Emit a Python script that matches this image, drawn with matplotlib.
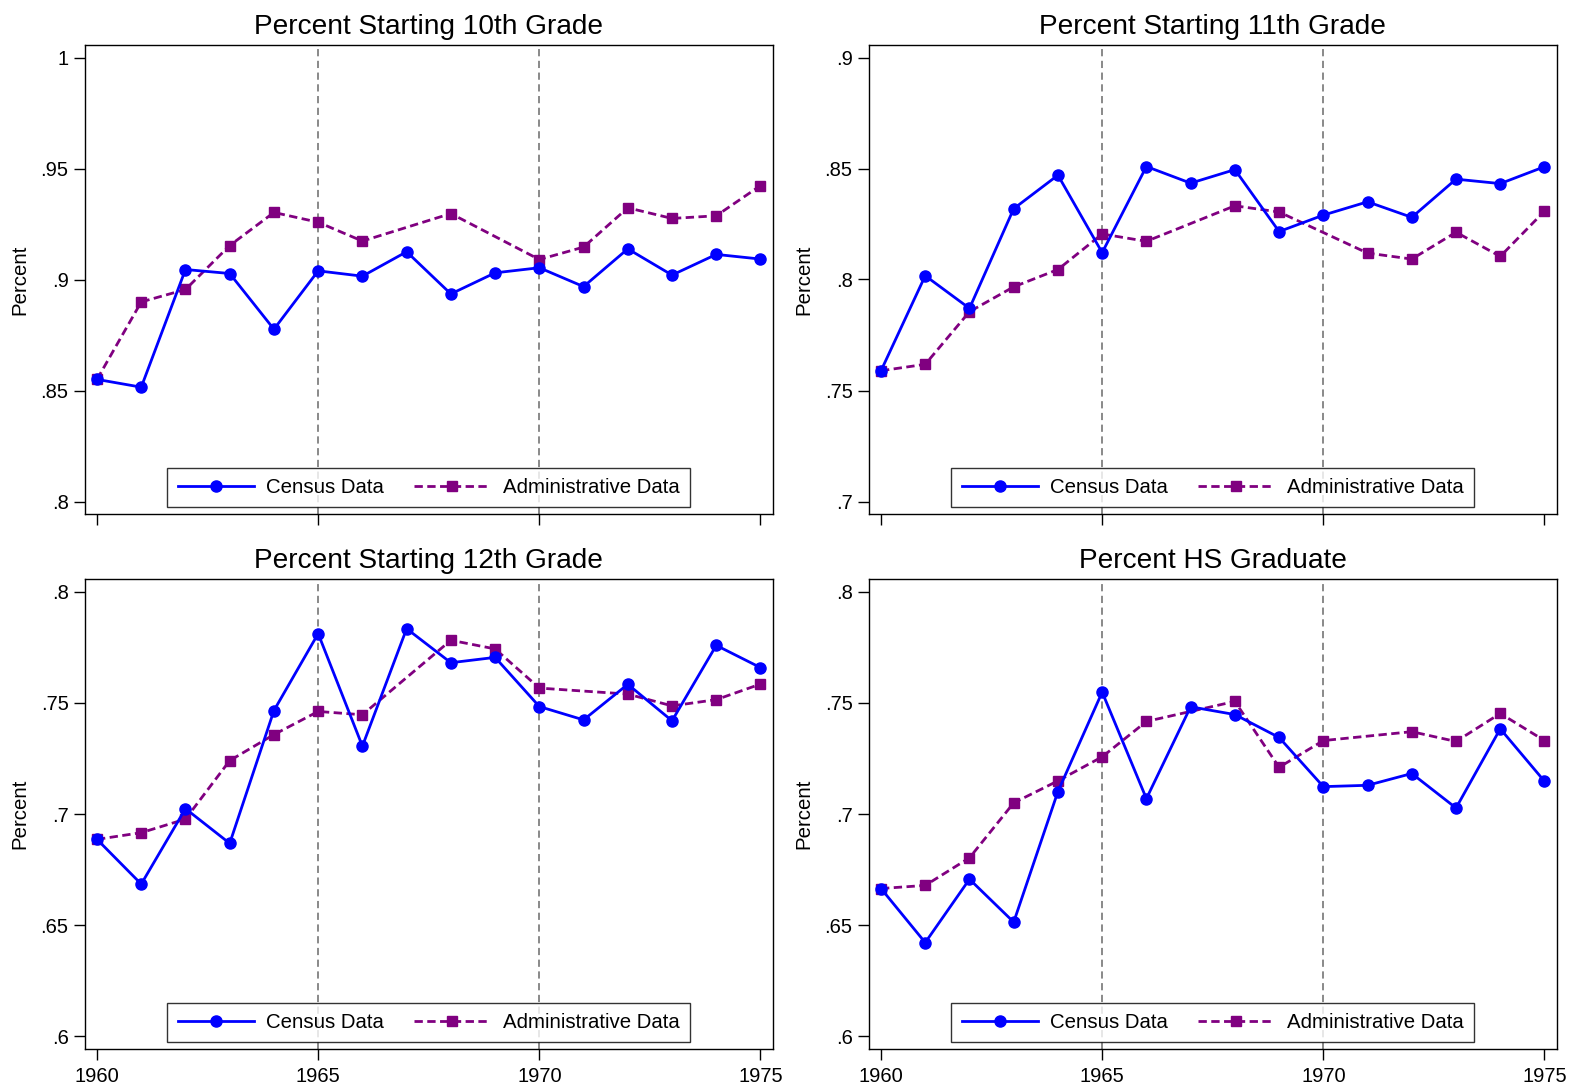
import numpy as np
import matplotlib.pyplot as plt

plt.rcParams['font.family'] = ['Liberation Sans', 'DejaVu Sans']

years = list(range(1960, 1976))

# Census vs administrative series, one pair per outcome (None = no admin value that year)
census_10th = [0.855, 0.8515, 0.9045, 0.9027, 0.8776, 0.9039, 0.9015, 0.9125,
               0.8935, 0.903, 0.9053, 0.8968, 0.9138, 0.902, 0.9113, 0.9092]
admin_10th = [0.855, 0.8899, 0.8955, 0.9153, 0.9302, 0.9258, 0.9173, None,
              0.9297, None, 0.909, 0.9146, 0.9323, 0.9275, 0.9287, 0.9423]

census_11th = [0.7589, 0.8017, 0.787, 0.8319, 0.847, 0.8121, 0.8509, 0.8434,
               0.8495, 0.8216, 0.829, 0.835, 0.828, 0.8452, 0.8432, 0.8508]
admin_11th = [0.7589, 0.7618, 0.7855, 0.7967, 0.8045, 0.8205, 0.8172, None,
              0.8332, 0.8304, None, 0.8119, 0.8092, 0.8213, 0.8104, 0.8308]

census_12th = [0.6886, 0.6685, 0.7024, 0.6868, 0.7465, 0.7811, 0.7305, 0.7833,
               0.768, 0.7704, 0.7483, 0.7423, 0.7583, 0.7419, 0.7758, 0.7658]
admin_12th = [0.6886, 0.6916, 0.6977, 0.724, 0.7357, 0.7461, 0.7446, None,
              0.7781, 0.7742, 0.7566, None, 0.7539, 0.7486, 0.7514, 0.7584]

census_grad = [0.6665, 0.6422, 0.6707, 0.6514, 0.7101, 0.7548, 0.7069, 0.7482,
               0.7447, 0.7344, 0.7123, 0.7129, 0.7182, 0.7027, 0.7383, 0.7147]
admin_grad = [0.6665, 0.6679, 0.6803, 0.705, 0.7149, 0.7257, 0.7416, None,
              0.7506, 0.721, 0.733, None, 0.737, 0.7326, 0.7452, 0.733]

titles = ['Percent Starting 10th Grade', 'Percent Starting 11th Grade',
          'Percent Starting 12th Grade', 'Percent HS Graduate']
yticks = [[0.8, 0.85, 0.9, 0.95, 1.0], [0.7, 0.75, 0.8, 0.85, 0.9],
          [0.6, 0.65, 0.7, 0.75, 0.8], [0.6, 0.65, 0.7, 0.75, 0.8]]
ytick_labels = [['.8', '.85', '.9', '.95', '1'], ['.7', '.75', '.8', '.85', '.9'],
                ['.6', '.65', '.7', '.75', '.8'], ['.6', '.65', '.7', '.75', '.8']]
xticks = [1960, 1965, 1970, 1975]
vlines_at = [1965, 1970]

panels = [(census_10th, admin_10th), (census_11th, admin_11th),
          (census_12th, admin_12th), (census_grad, admin_grad)]

W, H = 1571, 1083
fig = plt.figure(figsize=(W / 100, H / 100), dpi=100)

# axes boxes in pixels: left, top, right, bottom
boxes = [(84.5, 45, 772.5, 514), (868.5, 45, 1556.5, 514),
         (84.5, 579, 772.5, 1049), (868.5, 579, 1556.5, 1049)]

for i, ((cen, adm), box) in enumerate(zip(panels, boxes)):
    l, t, r, b = box
    ax = fig.add_axes([l / W, 1 - b / H, (r - l) / W, (b - t) / H])

    yrs = np.array(years)
    adm_arr = np.array([np.nan if v is None else v for v in adm], dtype=float)
    ok = ~np.isnan(adm_arr)

    for xv in vlines_at:
        ax.axvline(xv, color='#808080', lw=1.3, ls=(0, (4, 2.5)), zorder=1)

    ax.plot(yrs, cen, color='blue', lw=2.0, marker='o', ms=8,
            label='Census Data', zorder=3)
    ax.plot(yrs[ok], adm_arr[ok], color='purple', lw=2.0, ls=(0, (3, 1.6)),
            marker='s', ms=7.2, label='Administrative Data', zorder=2)

    lo, hi = yticks[i][0], yticks[i][-1]
    pad = (hi - lo) * 12.5 / 444
    ax.set_ylim(lo - pad, hi + pad)
    ax.set_xlim(1960 - 12.5 / 44.2, 1975 + 12 / 44.2)
    ax.set_yticks(yticks[i])
    ax.set_yticklabels(ytick_labels[i])
    ax.set_xticks(xticks)
    if i >= 2:
        ax.set_xticklabels([str(x) for x in xticks])
    else:
        ax.set_xticklabels([])
    ax.tick_params(axis='both', direction='out', length=8, width=1,
                   labelsize=14.5)
    ax.tick_params(axis='y', pad=3.5)
    ax.tick_params(axis='x', pad=5)
    for sp in ax.spines.values():
        sp.set_linewidth(1.0)
        sp.set_color('black')
    ax.set_ylabel('Percent', fontsize=14.7, labelpad=8)
    ax.set_title(titles[i], fontsize=20.2, pad=8)

    leg = ax.legend(loc='lower center', ncol=2, frameon=True, fancybox=False,
                    edgecolor='black', fontsize=14.7, handlelength=3.75,
                    numpoints=1, borderpad=0.5, columnspacing=1.45,
                    handletextpad=0.6, borderaxespad=0,
                    bbox_to_anchor=(0.5, 0.015))
    leg.get_frame().set_linewidth(1.0)

fig.savefig('out.png', dpi=100, facecolor='white')
